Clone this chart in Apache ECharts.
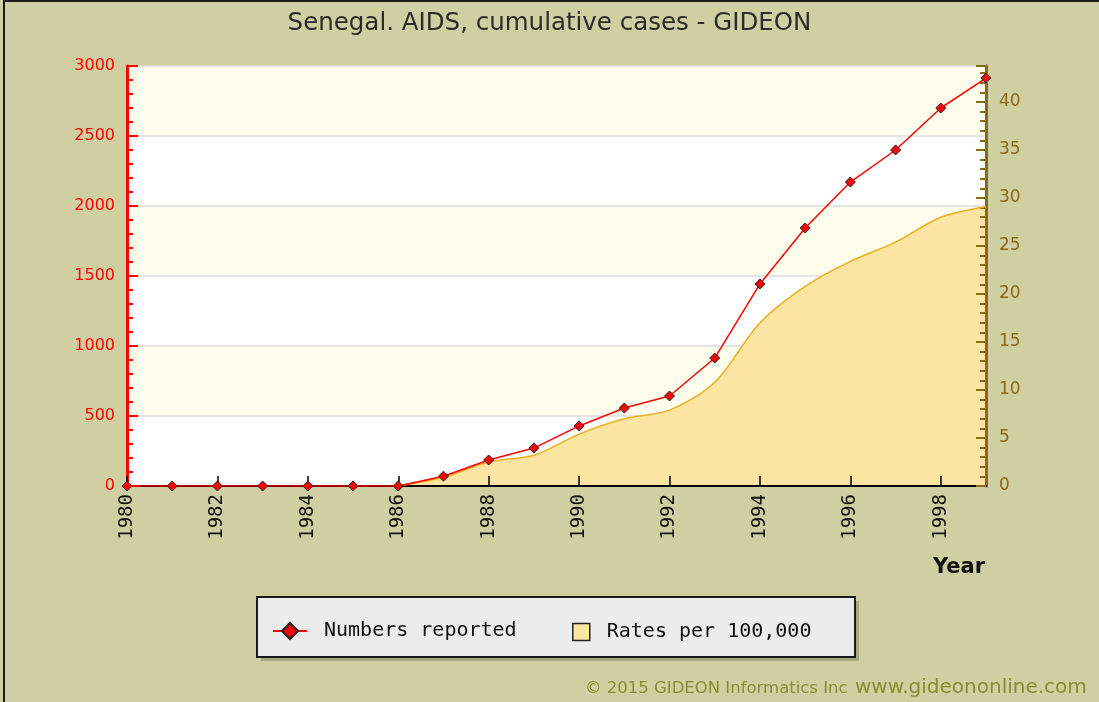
<!DOCTYPE html>
<html>
<head>
<meta charset="utf-8">
<script src="https://cdn.jsdelivr.net/npm/echarts@6/dist/echarts.min.js"></script>
<style>
    html, body { margin: 0; padding: 0; background: #d0cfa1; }
    #chart { width: 1099px; height: 702px; }
</style>
</head>
<body>
<div id="chart"></div>
<script>
// years on the x axis
const years = ['1980', '1981', '1982', '1983', '1984', '1985', '1986', '1987', '1988', '1989',
    '1990', '1991', '1992', '1993', '1994', '1995', '1996', '1997', '1998', '1999'];
// cumulative cases (left axis)
const numbersReported = [0, 0, 0, 0, 0, 0, 0, 70, 186, 271, 429, 557, 643, 914, 1443, 1843, 2171, 2400, 2700, 2914];
// rates per 100,000 (right axis), nothing drawn before 1986
const ratesPer100k = [null, null, null, null, null, null, 0, 0.9, 2.5, 3.2, 5.4, 7.0, 7.9, 10.8, 17.0, 20.8, 23.4, 25.4, 28.0, 29.1];

const leftTicks = { min: 0, max: 3000, interval: 500 };
const rightTicks = { min: 0, max: 43.75, interval: 5 };

const chart = echarts.init(document.getElementById('chart'));

const option = {
    backgroundColor: '#d0cfa1',
    animation: false,
    title: {
        text: 'Senegal. AIDS, cumulative cases - GIDEON',
        left: 'center',
        top: 6,
        textStyle: {
            fontFamily: 'DejaVu Sans',
            fontSize: 24.5,
            fontWeight: 'normal',
            color: '#2b2b2b'
        }
    },
    grid: {
        left: 127,
        right: 113,
        top: 66,
        bottom: 216
    },
    legend: [
        {
            data: ['Numbers reported'],
            left: 267,
            top: 616,
            itemWidth: 34,
            itemHeight: 20,
            selectedMode: false,
            textStyle: {
                fontFamily: 'DejaVu Sans Mono',
                fontSize: 20,
                color: '#111',
                padding: [0, 0, 0, 12]
            }
        },
        {
            data: [{
                name: 'Rates per 100,000',
                icon: 'rect',
                itemStyle: { color: '#fce5a3', borderColor: '#222', borderWidth: 1.5 }
            }],
            left: 567,
            top: 617,
            itemWidth: 17,
            itemHeight: 17,
            selectedMode: false,
            textStyle: {
                fontFamily: 'DejaVu Sans Mono',
                fontSize: 20,
                color: '#111',
                padding: [0, 0, 0, 12]
            }
        }
    ],
    xAxis: {
        type: 'category',
        data: years,
        boundaryGap: false,
        z: 3,
        axisLine: { lineStyle: { color: '#000', width: 2 } },
        axisTick: {
            inside: true,
            length: 10,
            interval: 1,
            lineStyle: { color: '#000', width: 1.5 }
        },
        axisLabel: {
            interval: 1,
            rotate: 90,
            margin: 8,
            fontFamily: 'DejaVu Sans Mono',
            fontSize: 19,
            color: '#111'
        },
        splitLine: { show: false }
    },
    yAxis: [
        {
            type: 'value',
            position: 'left',
            min: leftTicks.min,
            max: leftTicks.max,
            interval: leftTicks.interval,
            z: 3,
            axisLine: { show: true, lineStyle: { color: '#ff0000', width: 3 } },
            axisTick: { show: true, inside: true, length: 11, lineStyle: { color: '#ff0000', width: 2 } },
            minorTick: { show: true, splitNumber: 5, length: 6, lineStyle: { color: '#ff0000', width: 2 } },
            axisLabel: {
                margin: 12,
                fontFamily: 'DejaVu Sans',
                fontSize: 16,
                color: '#ff0000',
                formatter: (v) => String(v)
            },
            splitLine: { show: true, lineStyle: { color: '#dcdcdc', width: 1.5 } },
            splitArea: { show: true, areaStyle: { color: ['#ffffff', '#fefeec'] } }
        },
        {
            type: 'value',
            position: 'right',
            min: rightTicks.min,
            max: rightTicks.max,
            interval: rightTicks.interval,
            z: 3,
            axisLine: { show: true, lineStyle: { color: '#8c6912', width: 3 } },
            axisTick: { show: true, inside: true, length: 10, lineStyle: { color: '#8c6912', width: 2 } },
            minorTick: { show: true, splitNumber: 5, length: 6, lineStyle: { color: '#8c6912', width: 2 } },
            axisLabel: {
                margin: 13,
                showMaxLabel: false,
                fontFamily: 'DejaVu Sans',
                fontSize: 17,
                color: '#8c6912',
                formatter: (v) => String(v)
            },
            splitLine: { show: false }
        }
    ],
    series: [
        {
            name: 'Rates per 100,000',
            type: 'line',
            yAxisIndex: 1,
            data: ratesPer100k,
            smooth: 0.3,
            showSymbol: false,
            itemStyle: { color: '#fce5a3' },
            lineStyle: { color: '#f0ac1c', width: 1.5 },
            areaStyle: { color: '#fce5a3', opacity: 1 }
        },
        {
            name: 'Numbers reported',
            type: 'line',
            yAxisIndex: 0,
            data: numbersReported,
            symbol: 'diamond',
            symbolSize: 10,
            itemStyle: { color: '#ff0000', borderColor: '#222', borderWidth: 1 },
            lineStyle: { color: '#ff0000', width: 1.5 }
        }
    ],
    graphic: [
        {
            type: 'rect',
            z: -1,
            shape: { x: 4, y: 1, width: 1200, height: 800 },
            style: { fill: null, stroke: '#1a1a1a', lineWidth: 2 }
        },
        // legend shadow, then the box
        {
            type: 'rect',
            z: 0,
            shape: { x: 261, y: 601, width: 598, height: 60 },
            style: { fill: 'rgba(90,90,70,0.35)' }
        },
        {
            type: 'rect',
            z: 0,
            shape: { x: 257, y: 597, width: 598, height: 60 },
            style: { fill: '#ececec', stroke: '#1a1a1a', lineWidth: 2 }
        },
        {
            type: 'text',
            right: 114,
            top: 557,
            style: {
                text: 'Year',
                font: 'bold 21px "DejaVu Sans"',
                fill: '#111'
            }
        },
        {
            type: 'text',
            left: 585,
            top: 680,
            style: {
                text: '\u00a9 2015 GIDEON Informatics Inc',
                font: '16.5px "DejaVu Sans"',
                fill: '#858e30'
            }
        },
        {
            type: 'text',
            left: 855,
            top: 678,
            style: {
                text: 'www.gideononline.com',
                font: '20px "DejaVu Sans"',
                fill: '#858e30'
            }
        }
    ]
};

chart.setOption(option);
</script>
</body>
</html>
